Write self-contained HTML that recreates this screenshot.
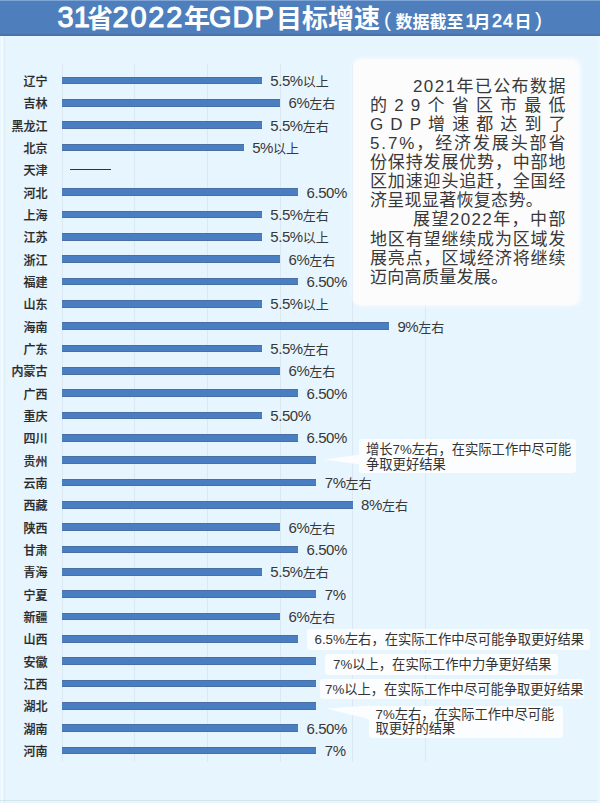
<!DOCTYPE html>
<html><head><meta charset="utf-8">
<style>
*{margin:0;padding:0;box-sizing:border-box}
html,body{width:600px;height:803px;overflow:hidden}
body{background:#e7f5fe;position:relative;font-family:"Liberation Sans","Noto Sans CJK SC",sans-serif;color:#333}
.title{position:absolute;left:0;top:0;width:600px;height:36px;background:#4e7fbc;border-bottom:2px solid #4874aa;color:#fff;white-space:nowrap}
.title div{position:absolute;top:0;line-height:34px}
.tl{font-size:29px;font-weight:normal;-webkit-text-stroke:1px #fff}
.tc{font-size:26px;font-weight:bold;font-family:"Noto Sans CJK SC",sans-serif}
.tp{font-size:21px;font-weight:normal}
.ts{font-size:17px;font-weight:bold;font-family:"Noto Sans CJK SC",sans-serif}
.tn{font-size:18px;font-weight:normal;-webkit-text-stroke:0.6px #fff}
.gl{position:absolute;top:64px;height:698px;width:1px;background:#dbe8f2}
.nm{position:absolute;right:552.5px;height:18px;line-height:18px;font-size:12px;font-weight:500;color:#2a2a2a;-webkit-text-stroke:0.2px #2a2a2a;white-space:nowrap}
.bar{position:absolute;left:62.2px;height:7.5px;background:#4a7ec2;border-top:1px solid #4a6fa3;border-bottom:1px solid #4a6fa3}
.dash{position:absolute;left:70px;width:41px;height:1px;background:#333}
.vl{position:absolute;height:18px;line-height:18px;font-size:13px;color:#383838;white-space:nowrap}
.vl .d{font-size:15px;letter-spacing:-0.45px}
.box{position:absolute;left:353px;top:60px;width:224px;height:245px;background:#fcfcfc;border-radius:7px;box-shadow:3px 0 5px 1px rgba(250,254,255,0.85),0 -1px 4px 1px rgba(250,254,255,0.6)}
.ln{position:absolute;font-size:17px;line-height:19px;height:19px;white-space:nowrap;color:#383838}
.ln.j{display:flex;justify-content:space-between}
.co{position:absolute;background:#fbfdfe;border-radius:3px;color:#333;white-space:nowrap}
.co div{position:absolute;white-space:nowrap}
</style></head><body>
<div class="title">
<div class="tl" style="left:57.5px">31</div>
<div class="tc" style="left:87px">省</div>
<div class="tl" style="left:112.5px;letter-spacing:1.8px">2022</div>
<div class="tc" style="left:184px">年</div>
<div class="tl" style="left:209px;letter-spacing:1px">GDP</div>
<div class="tc" style="left:276px">目标增速</div>
<div class="tp" style="left:384px;top:2.5px">(</div>
<div class="ts" style="left:395.5px;top:4px">数据截至</div>
<div class="tn" style="left:465.5px;top:4px">1</div>
<div class="ts" style="left:473.5px;top:4px">月</div>
<div class="tn" style="left:492px;top:4px;letter-spacing:1px">24</div>
<div class="ts" style="left:514.5px;top:4px">日</div>
<div class="tp" style="left:535px;top:2.5px">)</div>
</div>
<div class="gl" style="left:61.7px"></div>
<div class="gl" style="left:134.3px"></div>
<div class="gl" style="left:206.9px"></div>
<div class="gl" style="left:279.5px"></div>
<div class="gl" style="left:352.1px"></div>
<div class="gl" style="left:424.7px"></div>
<div class="nm" style="top:73.1px">辽宁</div>
<div class="bar" style="top:76.75px;width:199.6px"></div>
<div class="vl" style="top:72.0px;left:270.3px"><span class="d">5.5%</span>以上</div>
<div class="nm" style="top:95.4px">吉林</div>
<div class="bar" style="top:99.08px;width:217.8px"></div>
<div class="vl" style="top:94.3px;left:288.5px"><span class="d">6%</span>左右</div>
<div class="nm" style="top:117.8px">黑龙江</div>
<div class="bar" style="top:121.42px;width:199.6px"></div>
<div class="vl" style="top:116.7px;left:270.3px"><span class="d">5.5%</span>左右</div>
<div class="nm" style="top:140.1px">北京</div>
<div class="bar" style="top:143.75px;width:181.5px"></div>
<div class="vl" style="top:139.0px;left:252.2px"><span class="d">5%</span>以上</div>
<div class="nm" style="top:162.4px">天津</div>
<div class="dash" style="top:169.3px"></div>
<div class="nm" style="top:184.8px">河北</div>
<div class="bar" style="top:188.41px;width:235.9px"></div>
<div class="vl" style="top:183.7px;left:306.6px"><span class="d">6.50%</span></div>
<div class="nm" style="top:207.1px">上海</div>
<div class="bar" style="top:210.75px;width:199.6px"></div>
<div class="vl" style="top:206.0px;left:270.3px"><span class="d">5.5%</span>左右</div>
<div class="nm" style="top:229.4px">江苏</div>
<div class="bar" style="top:233.08px;width:199.6px"></div>
<div class="vl" style="top:228.3px;left:270.3px"><span class="d">5.5%</span>以上</div>
<div class="nm" style="top:251.8px">浙江</div>
<div class="bar" style="top:255.41px;width:217.8px"></div>
<div class="vl" style="top:250.7px;left:288.5px"><span class="d">6%</span>左右</div>
<div class="nm" style="top:274.1px">福建</div>
<div class="bar" style="top:277.75px;width:235.9px"></div>
<div class="vl" style="top:273.0px;left:306.6px"><span class="d">6.50%</span></div>
<div class="nm" style="top:296.4px">山东</div>
<div class="bar" style="top:300.08px;width:199.6px"></div>
<div class="vl" style="top:295.3px;left:270.3px"><span class="d">5.5%</span>以上</div>
<div class="nm" style="top:318.8px">海南</div>
<div class="bar" style="top:322.41px;width:326.7px"></div>
<div class="vl" style="top:317.7px;left:397.4px"><span class="d">9%</span>左右</div>
<div class="nm" style="top:341.1px">广东</div>
<div class="bar" style="top:344.75px;width:199.6px"></div>
<div class="vl" style="top:340.0px;left:270.3px"><span class="d">5.5%</span>左右</div>
<div class="nm" style="top:363.4px">内蒙古</div>
<div class="bar" style="top:367.08px;width:217.8px"></div>
<div class="vl" style="top:362.3px;left:288.5px"><span class="d">6%</span>左右</div>
<div class="nm" style="top:385.8px">广西</div>
<div class="bar" style="top:389.41px;width:235.9px"></div>
<div class="vl" style="top:384.7px;left:306.6px"><span class="d">6.50%</span></div>
<div class="nm" style="top:408.1px">重庆</div>
<div class="bar" style="top:411.75px;width:199.6px"></div>
<div class="vl" style="top:407.0px;left:270.3px"><span class="d">5.50%</span></div>
<div class="nm" style="top:430.4px">四川</div>
<div class="bar" style="top:434.08px;width:235.9px"></div>
<div class="vl" style="top:429.3px;left:306.6px"><span class="d">6.50%</span></div>
<div class="nm" style="top:452.8px">贵州</div>
<div class="bar" style="top:456.41px;width:254.1px"></div>
<div class="nm" style="top:475.1px">云南</div>
<div class="bar" style="top:478.74px;width:254.1px"></div>
<div class="vl" style="top:474.0px;left:324.8px"><span class="d">7%</span>左右</div>
<div class="nm" style="top:497.4px">西藏</div>
<div class="bar" style="top:501.08px;width:290.4px"></div>
<div class="vl" style="top:496.3px;left:361.1px"><span class="d">8%</span>左右</div>
<div class="nm" style="top:519.8px">陕西</div>
<div class="bar" style="top:523.41px;width:217.8px"></div>
<div class="vl" style="top:518.7px;left:288.5px"><span class="d">6%</span>左右</div>
<div class="nm" style="top:542.1px">甘肃</div>
<div class="bar" style="top:545.74px;width:235.9px"></div>
<div class="vl" style="top:541.0px;left:306.6px"><span class="d">6.50%</span></div>
<div class="nm" style="top:564.4px">青海</div>
<div class="bar" style="top:568.08px;width:199.6px"></div>
<div class="vl" style="top:563.3px;left:270.3px"><span class="d">5.5%</span>左右</div>
<div class="nm" style="top:586.8px">宁夏</div>
<div class="bar" style="top:590.41px;width:254.1px"></div>
<div class="vl" style="top:585.7px;left:324.8px"><span class="d">7%</span></div>
<div class="nm" style="top:609.1px">新疆</div>
<div class="bar" style="top:612.74px;width:217.8px"></div>
<div class="vl" style="top:608.0px;left:288.5px"><span class="d">6%</span>左右</div>
<div class="nm" style="top:631.4px">山西</div>
<div class="bar" style="top:635.07px;width:235.9px"></div>
<div class="nm" style="top:653.8px">安徽</div>
<div class="bar" style="top:657.41px;width:254.1px"></div>
<div class="nm" style="top:676.1px">江西</div>
<div class="bar" style="top:679.74px;width:254.1px"></div>
<div class="nm" style="top:698.4px">湖北</div>
<div class="bar" style="top:702.07px;width:254.1px"></div>
<div class="nm" style="top:720.8px">湖南</div>
<div class="bar" style="top:724.41px;width:235.9px"></div>
<div class="vl" style="top:719.7px;left:306.6px"><span class="d">6.50%</span></div>
<div class="nm" style="top:743.1px">河南</div>
<div class="bar" style="top:746.74px;width:254.1px"></div>
<div class="vl" style="top:742.0px;left:324.8px"><span class="d">7%</span></div>
<div class="box"></div>
<div style="position:absolute;left:0;top:0;width:600px;height:1px;background:#7ea5d6"></div>
<div style="position:absolute;left:1px;top:36px;width:2px;height:767px;background:#f1fafd"></div>
<div style="position:absolute;left:4px;top:36px;width:1px;height:767px;background:#e0edf5"></div>
<div style="position:absolute;left:0;top:800px;width:600px;height:1px;background:#d2e3ea"></div>
<div style="position:absolute;left:597px;top:36px;width:3px;height:767px;background:#eaf7fb"></div>
<div class="ln j" style="top:77.00px;left:413px;width:152.5px"><span>2</span><span>0</span><span>2</span><span>1</span><span>年</span><span>已</span><span>公</span><span>布</span><span>数</span><span>据</span></div>
<div class="ln j" style="top:96.07px;left:370.0px;width:195.5px"><span>的</span><span>2</span><span>9</span><span>个</span><span>省</span><span>区</span><span>市</span><span>最</span><span>低</span></div>
<div class="ln j" style="top:115.14px;left:370.0px;width:195.5px"><span>G</span><span>D</span><span>P</span><span>增</span><span>速</span><span>都</span><span>达</span><span>到</span><span>了</span></div>
<div class="ln j" style="top:134.21px;left:370.0px;width:195.5px"><span>5</span><span>.</span><span>7</span><span>%</span><span>，</span><span>经</span><span>济</span><span>发</span><span>展</span><span>头</span><span>部</span><span>省</span></div>
<div class="ln j" style="top:153.28px;left:370.0px;width:195.5px"><span>份</span><span>保</span><span>持</span><span>发</span><span>展</span><span>优</span><span>势</span><span>，</span><span>中</span><span>部</span><span>地</span></div>
<div class="ln j" style="top:172.35px;left:370.0px;width:195.5px"><span>区</span><span>加</span><span>速</span><span>迎</span><span>头</span><span>追</span><span>赶</span><span>，</span><span>全</span><span>国</span><span>经</span></div>
<div class="ln" style="top:191.42px;left:370.0px;letter-spacing:0.3px">济呈现显著恢复态势。</div>
<div class="ln j" style="top:210.49px;left:413px;width:152.5px"><span>展</span><span>望</span><span>2</span><span>0</span><span>2</span><span>2</span><span>年</span><span>，</span><span>中</span><span>部</span></div>
<div class="ln j" style="top:229.56px;left:370.0px;width:195.5px"><span>地</span><span>区</span><span>有</span><span>望</span><span>继</span><span>续</span><span>成</span><span>为</span><span>区</span><span>域</span><span>发</span></div>
<div class="ln j" style="top:248.63px;left:370.0px;width:195.5px"><span>展</span><span>亮</span><span>点</span><span>，</span><span>区</span><span>域</span><span>经</span><span>济</span><span>将</span><span>继</span><span>续</span></div>
<div class="ln" style="top:267.70px;left:370.0px;letter-spacing:0.3px">迈向高质量发展。</div>
<svg style="position:absolute;left:0;top:0" width="600" height="803">
<polygon points="324,459.5 360,454.5 360,464.5" fill="#fbfdfe"/>
<polygon points="326,708.5 370,705.5 370,719.5" fill="#fbfdfe"/>
</svg>
<div class="co" style="left:359px;top:438.5px;width:217px;height:34px;font-size:13.3px;line-height:16px"><div style="left:7px;top:3px;line-height:15px">增长7%左右，在实际工作中尽可能<br>争取更好结果</div></div>
<div class="co" style="left:307px;top:628.5px;width:283px;height:21px;font-size:13.3px;line-height:21px"><div style="left:7.5px;top:0">6.5%左右，在实际工作中尽可能争取更好结果</div></div>
<div class="co" style="left:325px;top:654px;width:232.5px;height:20.5px;font-size:13.3px;line-height:21px"><div style="left:8px;top:0">7%以上，在实际工作中力争更好结果</div></div>
<div class="co" style="left:320px;top:678.5px;width:264px;height:20px;font-size:13.3px;line-height:21px"><div style="left:5px;top:0">7%以上，在实际工作中尽可能争取更好结果</div></div>
<div class="co" style="left:369px;top:705.5px;width:193.5px;height:32.5px;font-size:13.3px;line-height:15px"><div style="left:6.5px;top:2px;line-height:14.5px">7%左右，在实际工作中尽可能<br>取更好的结果</div></div>
</body></html>
